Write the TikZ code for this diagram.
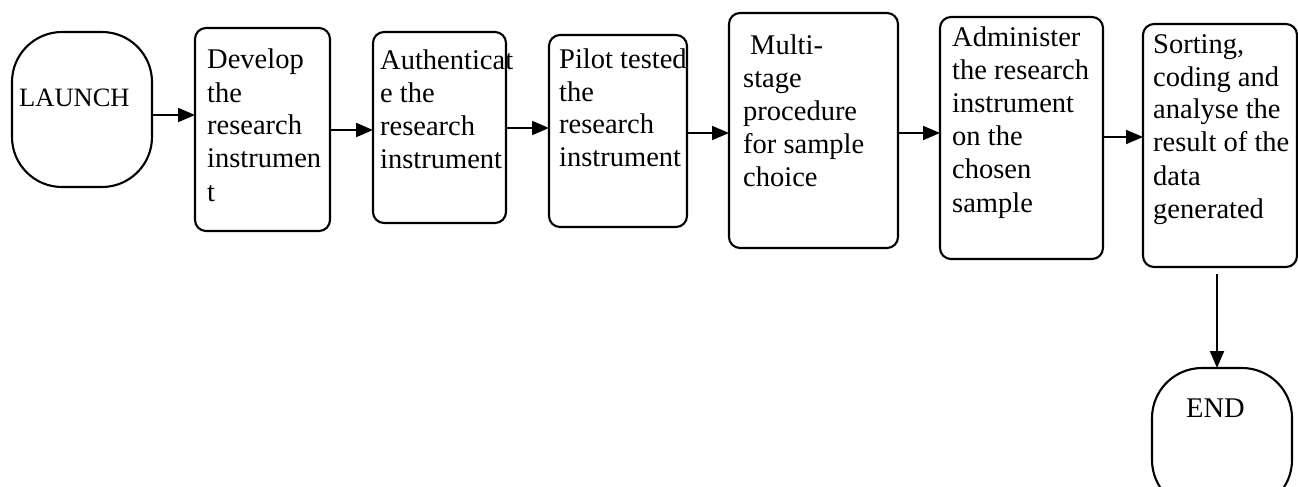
\documentclass[tikz,border=0pt]{standalone}
\usepackage{fontspec}
\setmainfont{Liberation Serif}
\usetikzlibrary{arrows.meta}
\begin{document}
\begin{tikzpicture}[x=1pt,y=-1pt,
  box/.style={draw, line width=2.1pt, rounded corners=11pt, anchor=north west, inner sep=0pt, outer sep=0pt},
  term/.style={box, rounded corners=50pt},
  txt/.style={anchor=base west, inner sep=0pt, font=\fontsize{28.5}{33}\selectfont},
  arr/.style={line width=2pt, -{Triangle[length=17pt,width=14pt]}}]
\useasboundingbox (0,0) rectangle (1298,487);
% boxes
\node[term, minimum width=140pt, minimum height=155pt] (b0) at (12,32) {};
\node[box, minimum width=135pt, minimum height=203pt] (b1) at (195,28) {};
\node[box, minimum width=133pt, minimum height=191pt] (b2) at (373,32) {};
\node[box, minimum width=138pt, minimum height=192pt] (b3) at (549,35) {};
\node[box, minimum width=169pt, minimum height=235pt] (b4) at (729,13) {};
\node[box, minimum width=163pt, minimum height=242pt] (b5) at (940,17) {};
\node[box, minimum width=154pt, minimum height=243pt] (b6) at (1143,24) {};
\node[term, minimum width=140pt, minimum height=142pt] (b7) at (1152,368) {};
% texts
\node[txt, font=\fontsize{26.5}{33}\selectfont] (t0) at (19,106) {LAUNCH};
\node[txt] (t1) at (207,69) {\parbox[t]{6cm}{Develop\\the\\research\\instrumen\\t}};
\node[txt] (t2) at (380,70) {\parbox[t]{6cm}{Authenticat\\e the\\research\\instrument}};
\node[txt] (t3) at (559,68) {\parbox[t]{6cm}{Pilot tested\\the\\research\\instrument}};
\node[txt] (t4) at (743,55) {\parbox[t]{6cm}{\hspace*{7pt}Multi-\\stage\\procedure\\for sample\\choice}};
\node[txt] (t5) at (952,47) {\parbox[t]{6cm}{Administer\\the research\\instrument\\on the\\chosen\\sample}};
\node[txt] (t6) at (1153,53) {\parbox[t]{6cm}{Sorting,\\coding and\\analyse the\\result of the\\data\\generated}};
\node[txt] (t7) at (1186,417) {END};
% connector levels
\coordinate (y0) at (0,115);
\coordinate (y1) at (0,130);
\coordinate (y2) at (0,128);
\coordinate (y3) at (0,133);
\coordinate (y4) at (0,133);
\coordinate (y5) at (0,137);
\coordinate (xv) at (1217,0);
\draw[arr] (b0.east |- y0) -- (b1.west |- y0);
\draw[arr] (b1.east |- y1) -- (b2.west |- y1);
\draw[arr] (b2.east |- y2) -- (b3.west |- y2);
\draw[arr] (b3.east |- y3) -- (b4.west |- y3);
\draw[arr] (b4.east |- y4) -- (b5.west |- y4);
\draw[arr] (b5.east |- y5) -- (b6.west |- y5);
\draw[arr, shorten <=7pt] (b6.south -| xv) -- (b7.north -| xv);
\end{tikzpicture}
\end{document}
